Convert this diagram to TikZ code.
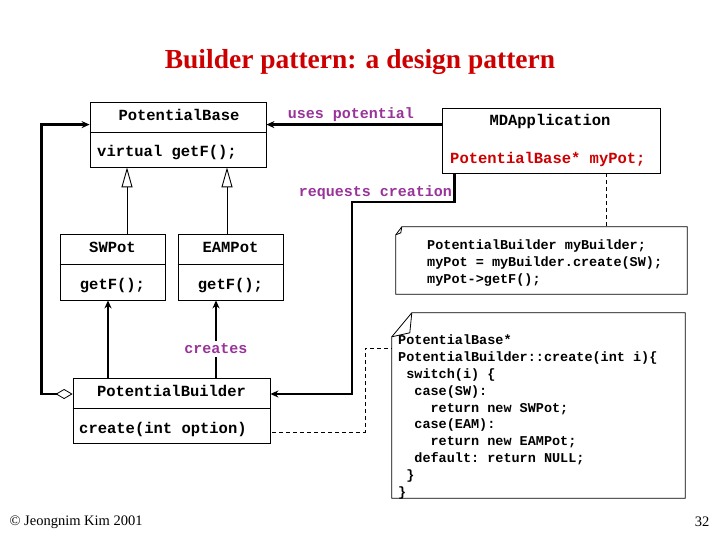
\documentclass[tikz,border=0pt]{standalone}
\usepackage{fontspec}
\setmainfont{Liberation Serif}
\setmonofont{Liberation Mono}
\usetikzlibrary{arrows.meta}
\definecolor{relpurple}{RGB}{153,51,153}
\definecolor{fieldred}{RGB}{204,0,0}

\begin{document}
\begin{tikzpicture}[x=1pt,y=-1pt,
    class box/.style={draw=black, line width=0.8pt, inner sep=0pt},
    class text/.style={font=\ttfamily\bfseries\fontsize{15.5}{18}\selectfont, inner sep=0pt},
    rel label/.style={font=\ttfamily\bfseries\fontsize{15}{18}\selectfont, text=relpurple, inner sep=1pt},
    code text/.style={font=\ttfamily\bfseries\fontsize{13.5}{16.8}\selectfont, align=left, inner sep=0pt, anchor=west},
    link/.style={line width=2.4pt, -{Stealth[length=8pt,width=7pt]}},
    inherit/.style={line width=0.9pt, -{Triangle[open,length=20pt,width=11pt]}},
    note link/.style={line width=0.8pt, dash pattern=on 4pt off 3pt},
    note edge/.style={line width=0.8pt}]

    \useasboundingbox (0,0) rectangle (720,540);

    \node[font=\bfseries\fontsize{27.5}{32}\selectfont, text=fieldred] (title) at (360,62) {Builder pattern: a design pattern};

    % class boxes
    \node[class box, minimum width=176, minimum height=65] (base) at (178,134.5) {};
    \node[class box, minimum width=218, minimum height=65] (mdapp) at (551,140.5) {};
    \node[class box, minimum width=105, minimum height=66] (sw) at (112.5,267) {};
    \node[class box, minimum width=105, minimum height=66] (eam) at (230.5,267) {};
    \node[class box, minimum width=197, minimum height=65] (builder) at (171.5,410.5) {};

    \draw[line width=0.8pt] (base.west |- 0,132) -- (base.east |- 0,132);
    \draw[line width=0.8pt] (sw.west |- 0,264) -- (sw.east |- 0,264);
    \draw[line width=0.8pt] (eam.west |- 0,264) -- (eam.east |- 0,264);
    \draw[line width=0.8pt] (builder.west |- 0,408) -- (builder.east |- 0,408);

    \node[class text] (baseName) at (179,115) {PotentialBase};
    \node[class text, anchor=west] (baseOp) at (97,153) {virtual getF();};
    \node[class text] (mdappName) at (550,121) {MDApplication};
    \node[class text, anchor=west, text=fieldred] (mdappField) at (450,159) {PotentialBase* myPot;};
    \node[class text] (swName) at (112.5,247) {SWPot};
    \node[class text] (swOp) at (112.5,286) {getF();};
    \node[class text] (eamName) at (230.5,247) {EAMPot};
    \node[class text] (eamOp) at (230.5,286) {getF();};
    \node[class text] (builderName) at (171.5,391) {PotentialBuilder};
    \node[class text, anchor=west] (builderOp) at (79,429) {create(int option)};

    % notes
    \node[inner sep=0pt, minimum width=291, minimum height=67] (note1) at (541.5,260.5) {};
    \node[inner sep=0pt, minimum width=293, minimum height=185] (note2) at (538.5,405.5) {};
    \draw[note edge] ([xshift=6pt]note1.north west) -- (note1.north east) -- (note1.south east)
        -- (note1.south west) -- ([yshift=-8pt]note1.north west) -- cycle;
    \draw[note edge] ([xshift=6pt]note1.north west) -- ([xshift=5pt,yshift=-6pt]note1.north west)
        -- ([yshift=-8pt]note1.north west);
    \draw[note edge] ([xshift=20pt]note2.north west) -- (note2.north east) -- (note2.south east)
        -- (note2.south west) -- ([yshift=-24pt]note2.north west) -- cycle;
    \draw[note edge] ([xshift=20pt]note2.north west) -- ([xshift=18pt,yshift=-20pt]note2.north west)
        -- ([yshift=-24pt]note2.north west);

    \node[code text] (note1Code) at (427,263) {PotentialBuilder myBuilder;\\
        myPot = myBuilder.create(SW);\\
        myPot->getF();};
    \node[code text] (note2Code) at (398,417) {PotentialBase*\\
        PotentialBuilder::create(int i)\{\\
        \phantom{x}switch(i) \{\\
        \phantom{xx}case(SW):\\
        \phantom{xxxx}return new SWPot;\\
        \phantom{xx}case(EAM):\\
        \phantom{xxxx}return new EAMPot;\\
        \phantom{xx}default: return NULL;\\
        \phantom{x}\}\\
        \}};

    % relations
    \coordinate (reqBend) at (352,202);
    \coordinate (dashBend) at (365,348);

    \draw[link] ([yshift=-17pt]mdapp.north west) -- ([yshift=-23pt]base.north east);
    \node[rel label] (usesLabel) at (351,115) {uses potential};

    \draw[link] ([xshift=13pt]mdapp.south west) |- (reqBend) |- ([yshift=-3pt]builder.east |- builderName);
    \node[rel label, anchor=east] (reqLabel) at (453,193) {requests creation};

    \draw[line width=2.4pt, {Diamond[open,length=17pt,width=10pt,line width=0.8pt]}-{Stealth[length=8pt,width=7pt]}]
        ([yshift=-3pt]builder.west |- builderName) -- ++(-31,0) |- ([yshift=-23pt]base.north west);

    \draw[inherit] ([xshift=14.5pt]sw.north) -- ([xshift=14.5pt]sw.north |- base.south);
    \draw[inherit] ([xshift=-3.5pt]eam.north) -- ([xshift=-3.5pt]eam.north |- base.south);

    \draw[link] ([xshift=-63.5pt]builder.north) -- ([xshift=-63.5pt]builder.north |- sw.south);
    \draw[link] ([xshift=44.5pt]builder.north) -- ([xshift=44.5pt]builder.north |- eam.south);
    \node[rel label, fill=white, inner sep=3pt] (createsLabel) at (216,349) {creates};

    \draw[note link] ([xshift=55pt]mdapp.south) -- ([xshift=55pt]mdapp.south |- note1.north);
    \draw[note link] ([xshift=2pt,yshift=-3pt]builder.east |- builderOp) -| (dashBend) -- (note2.west |- dashBend);

    % footer
    \node[font=\fontsize{14.5}{16}\selectfont, anchor=west] (credit) at (6,522) {© Jeongnim Kim 2001};
    \node[font=\fontsize{14.5}{16}\selectfont, anchor=east] (pageNo) at (713,522) {32};
\end{tikzpicture}
\end{document}
